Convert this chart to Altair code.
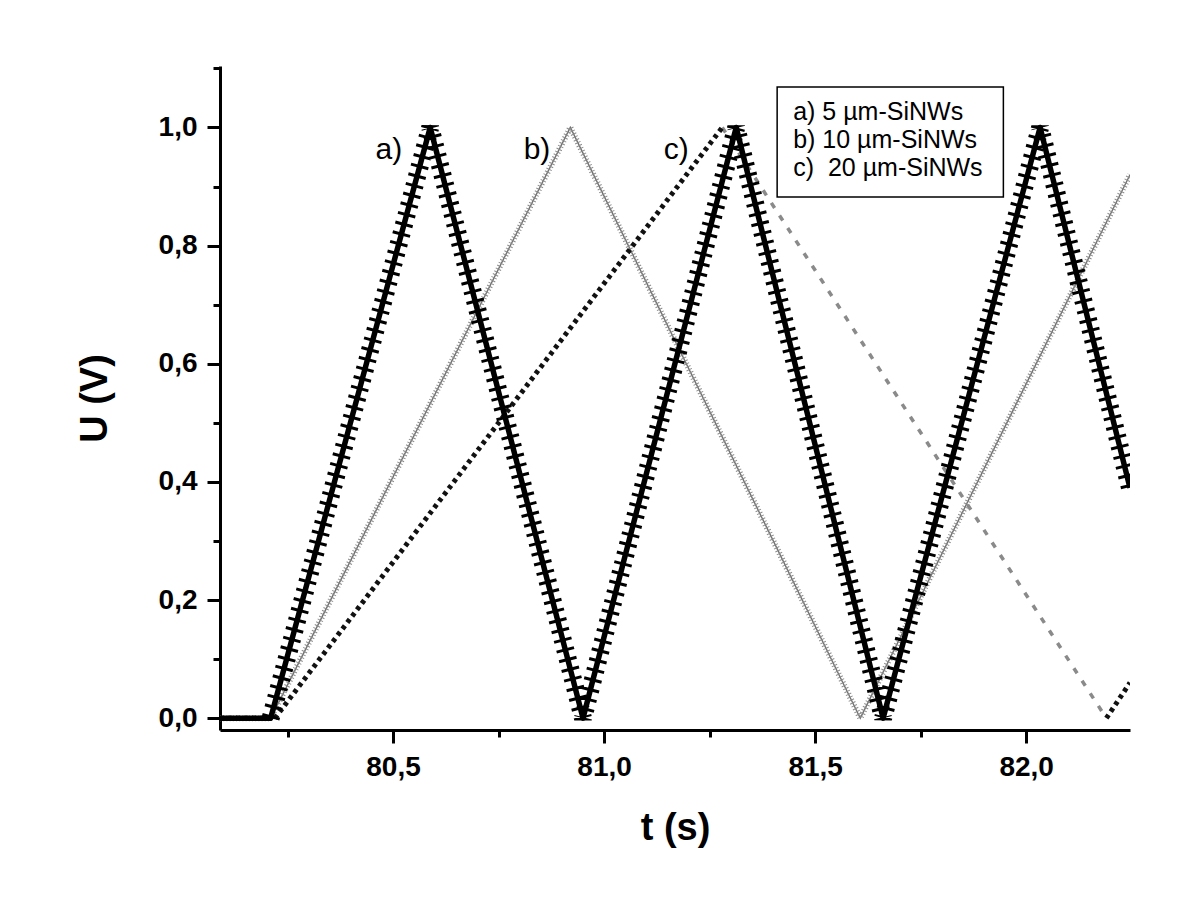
import altair as alt
import pandas as pd

# ---- data ----
# a) 5 µm-SiNWs  (vertices of the triangular voltage ramp)
a_t = [80.09, 80.21, 80.588, 80.95, 81.313, 81.661, 82.033, 82.246]
a_u = [0.0, 0.0, 1.0, 0.0, 1.0, 0.0, 1.0, 0.39]
# b) 10 µm-SiNWs
b_t = [80.09, 80.21, 80.92, 81.607, 82.246]
b_u = [0.0, 0.0, 1.0, 0.0, 0.92]
# c) 20 µm-SiNWs
c_t = [80.09, 80.22, 81.28, 82.19, 82.246]
c_u = [0.0, 0.0, 1.0, 0.0, 0.06]

series_tags = ["a)", "b)", "c)"]
tag_t = [80.49, 80.841, 81.171]
tag_u = [0.962, 0.962, 0.962]

legend_labels = ["a) 5 µm-SiNWs", "b) 10 µm-SiNWs", "c)\u00a0 20 µm-SiNWs"]

x_ticks = [80.25, 80.5, 80.75, 81.0, 81.25, 81.5, 81.75, 82.0]
y_ticks = [0.0, 0.1, 0.2, 0.3, 0.4, 0.5, 0.6, 0.7, 0.8, 0.9, 1.0, 1.1]

# ---- tables ----
df_a = pd.DataFrame({"t": a_t, "u": a_u})
df_a_marks = df_a.iloc[1:].reset_index(drop=True)
df_b = pd.DataFrame({"t": b_t, "u": b_u})

rows = []
for i in range(len(c_t) - 1):
    d = "fall" if c_u[i + 1] < c_u[i] else "rise"
    rows.append({"t": c_t[i], "u": c_u[i], "seg": i, "dir": d})
    rows.append({"t": c_t[i + 1], "u": c_u[i + 1], "seg": i, "dir": d})
df_c = pd.DataFrame(rows)

df_tags = pd.DataFrame({"t": tag_t, "u": tag_u, "label": series_tags})

# legend box (in data units of the plot)
leg_x0, leg_x1 = 81.41, 81.946
leg_y0, leg_y1 = 0.8823, 1.0685
df_box = pd.DataFrame({"x0": [leg_x0], "x1": [leg_x1], "y0": [leg_y0], "y1": [leg_y1]})
df_leg = pd.DataFrame({"t": [81.448] * 3, "u": [1.026, 0.979, 0.931], "label": legend_labels})

FONT = "Liberation Sans"

x_scale = alt.Scale(domain=[80.09, 82.246], nice=False, zero=False)
y_scale = alt.Scale(domain=[-0.02, 1.104], nice=False, zero=False)

x_axis = alt.Axis(
    values=x_ticks,
    title="t (s)",
    grid=False,
    domainColor="black",
    domainWidth=3,
    tickColor="black",
    tickWidth=3,
    tickSize={"condition": {"test": "abs(datum.value*2 - round(datum.value*2)) < 0.001", "value": 13}, "value": 7},
    labelExpr="abs(datum.value*2 - round(datum.value*2)) < 0.001 ? replace(format(datum.value, '.1f'), '.', ',') : ''",
    labelFont=FONT,
    labelFontSize=28,
    labelFontWeight="bold",
    labelColor="black",
    labelPadding=10,
    labelFlush=False,
    labelOverlap=False,
    titleFont=FONT,
    titleFontSize=38,
    titleFontWeight="bold",
    titleColor="black",
    titlePadding=28,
)

y_axis = alt.Axis(
    values=y_ticks,
    title="U (V)",
    grid=False,
    domainColor="black",
    domainWidth=3,
    tickColor="black",
    tickWidth=3,
    tickSize={"condition": {"test": "abs(datum.value*5 - round(datum.value*5)) < 0.001", "value": 13}, "value": 7},
    labelExpr="abs(datum.value*5 - round(datum.value*5)) < 0.001 ? replace(format(datum.value, '.1f'), '.', ',') : ''",
    labelFont=FONT,
    labelFontSize=28,
    labelFontWeight="bold",
    labelColor="black",
    labelPadding=10,
    labelFlush=False,
    labelOverlap=False,
    titleFont=FONT,
    titleFontSize=38,
    titleFontWeight="bold",
    titleColor="black",
    titlePadding=44,
)


def X(field):
    return alt.X(field, type="quantitative", scale=x_scale, axis=x_axis)


def Y(field):
    return alt.Y(field, type="quantitative", scale=y_scale, axis=y_axis)


# b) grey thin hatched line
b_line = alt.Chart(df_b).mark_line(color="#707070", strokeWidth=1.4, clip=True).encode(x=X("t"), y=Y("u"))
b_hatch = alt.Chart(df_b).mark_line(
    color="#8c8c8c", strokeWidth=6, strokeDash=[1, 2.2], strokeCap="butt", strokeJoin="bevel", clip=True
).encode(x=X("t"), y=Y("u"))

# c) black dotted rising parts, grey dashed falling parts
c_rise = alt.Chart(df_c).transform_filter("datum.dir == 'rise'").mark_line(
    color="#111111", strokeWidth=5, strokeDash=[4, 4], strokeCap="butt", clip=True
).encode(x=X("t"), y=Y("u"), detail="seg:N")
c_fall = alt.Chart(df_c).transform_filter("datum.dir == 'fall'").mark_line(
    color="#8a8a8a", strokeWidth=3.5, strokeDash=[6, 9], strokeCap="butt", clip=True
).encode(x=X("t"), y=Y("u"), detail="seg:N")

# a) thick black line with cross markers
a_line = alt.Chart(df_a).mark_line(color="black", strokeWidth=5.5, strokeJoin="round", clip=True).encode(
    x=X("t"), y=Y("u")
)
a_marks = alt.Chart(df_a_marks).mark_line(
    color="black", strokeWidth=18, strokeDash=[3, 7], strokeCap="butt", strokeJoin="bevel", clip=True
).encode(x=X("t"), y=Y("u"))

tags = alt.Chart(df_tags).mark_text(
    font=FONT, fontSize=30, color="black", align="center", baseline="middle"
).encode(x=X("t"), y=Y("u"), text="label:N")

box = alt.Chart(df_box).mark_rect(fill="white", stroke="black", strokeWidth=1.5).encode(
    x=X("x0"), x2="x1", y=Y("y0"), y2="y1"
)
leg_text = alt.Chart(df_leg).mark_text(
    font=FONT, fontSize=25, color="black", align="left", baseline="middle"
).encode(x=X("t"), y=Y("u"), text="label:N")

chart = (
    alt.layer(b_line, b_hatch, c_fall, c_rise, a_line, a_marks, tags, box, leg_text)
    .properties(
        width=910,
        height=664,
        autosize=alt.AutoSizeParams(type="none"),
        padding={"left": 212, "top": 58, "right": 62, "bottom": 181},
        background="white",
    )
    .configure_view(strokeWidth=0)
)

chart.save("out.html", embed_options={"renderer": "svg", "actions": False})
